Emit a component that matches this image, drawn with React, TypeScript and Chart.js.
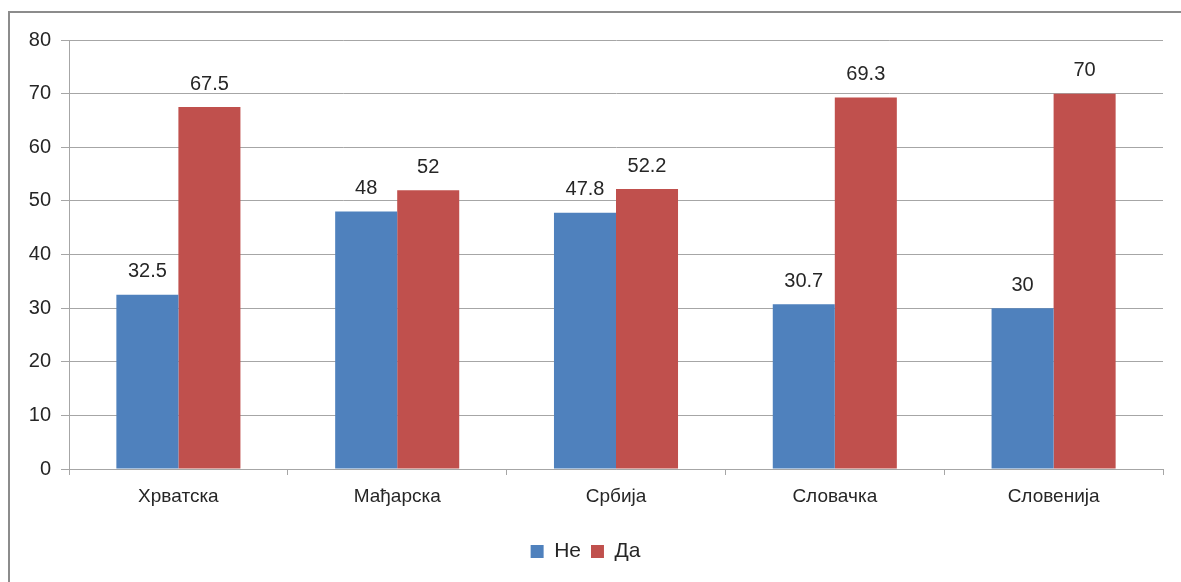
import React, { useEffect, useRef } from "react";
import { Chart, registerables } from "chart.js";

Chart.register(...registerables);

const categories = ["Хрватска", "Мађарска", "Србија", "Словачка", "Словенија"];
const seriesNe = [32.5, 48, 47.8, 30.7, 30];
const seriesDa = [67.5, 52, 52.2, 69.3, 70];
const seriesNames = ["Не", "Да"];
const yTicks = [0, 10, 20, 30, 40, 50, 60, 70, 80];

const FONT = "'Liberation Sans Narrow', 'Arial Narrow', 'Liberation Sans', Arial, sans-serif";
const TEXT = "#262626";
const GRID = "#a6a6a6";

// Outer frame drawn around the chart region
const framePlugin = {
  id: "frame",
  beforeDraw(chart: any) {
    const ctx = chart.ctx;
    ctx.save();
    ctx.fillStyle = "#ffffff";
    ctx.fillRect(0, 0, chart.width, chart.height);
    ctx.strokeStyle = "#8c8c8c";
    ctx.lineWidth = 2;
    ctx.beginPath();
    ctx.moveTo(9, chart.height + 5);
    ctx.lineTo(9, 12);
    ctx.lineTo(chart.width + 5, 12);
    ctx.stroke();
    ctx.restore();
  },
};

// Value labels above each bar
const valueLabels = {
  id: "valueLabels",
  afterDatasetsDraw(chart: any) {
    const ctx = chart.ctx;
    ctx.save();
    ctx.font = `20px ${FONT}`;
    ctx.fillStyle = TEXT;
    ctx.textAlign = "center";
    ctx.textBaseline = "bottom";
    chart.data.datasets.forEach((ds: any, di: number) => {
      const meta = chart.getDatasetMeta(di);
      meta.data.forEach((bar: any, i: number) => {
        ctx.fillText(String(ds.data[i]), bar.x, bar.y - 13);
      });
    });
    ctx.restore();
  },
};

export default function App() {
  const ref = useRef<HTMLCanvasElement | null>(null);

  useEffect(() => {
    if (!ref.current) return;
    const chart = new Chart(ref.current, {
      type: "bar",
      data: {
        labels: categories,
        datasets: [
          { label: seriesNames[0], data: seriesNe, backgroundColor: "#4f81bd" },
          { label: seriesNames[1], data: seriesDa, backgroundColor: "#c0504d" },
        ],
      },
      plugins: [framePlugin, valueLabels],
      options: {
        animation: false,
        responsive: false,
        maintainAspectRatio: false,
        layout: { padding: { left: 8, top: 40, right: 18, bottom: 10 } },
        datasets: {
          bar: { categoryPercentage: 0.567, barPercentage: 1 },
        },
        plugins: {
          tooltip: { enabled: false },
          legend: {
            position: "bottom",
            labels: {
              boxWidth: 13,
              boxHeight: 13,
              padding: 10,
              color: TEXT,
              font: { family: FONT, size: 21 },
            },
          },
        },
        scales: {
          x: {
            grid: {
              display: true,
              drawOnChartArea: false,
              drawTicks: true,
              tickLength: 6,
              color: GRID,
              offset: true,
            },
            border: { display: true, color: GRID },
            ticks: {
              color: TEXT,
              padding: 10,
              font: { family: FONT, size: 19 },
            },
            afterFit(scale: any) {
              scale.height = 62;
            },
          },
          y: {
            min: 0,
            max: 80,
            afterBuildTicks(scale: any) {
              scale.ticks = yTicks.map((v) => ({ value: v }));
            },
            grid: { color: GRID, tickLength: 8, drawTicks: true },
            border: { display: true, color: GRID },
            ticks: {
              color: TEXT,
              padding: 10,
              font: { family: FONT, size: 20 },
            },
            afterFit(scale: any) {
              scale.width = 61;
            },
          },
        },
      },
    });
    return () => chart.destroy();
  }, []);

  return (
    <div style={{ position: "fixed", left: 0, top: 0, width: 1181, height: 582 }}>
      <canvas ref={ref} width={1181} height={582} style={{ width: 1181, height: 582 }} />
    </div>
  );
}
